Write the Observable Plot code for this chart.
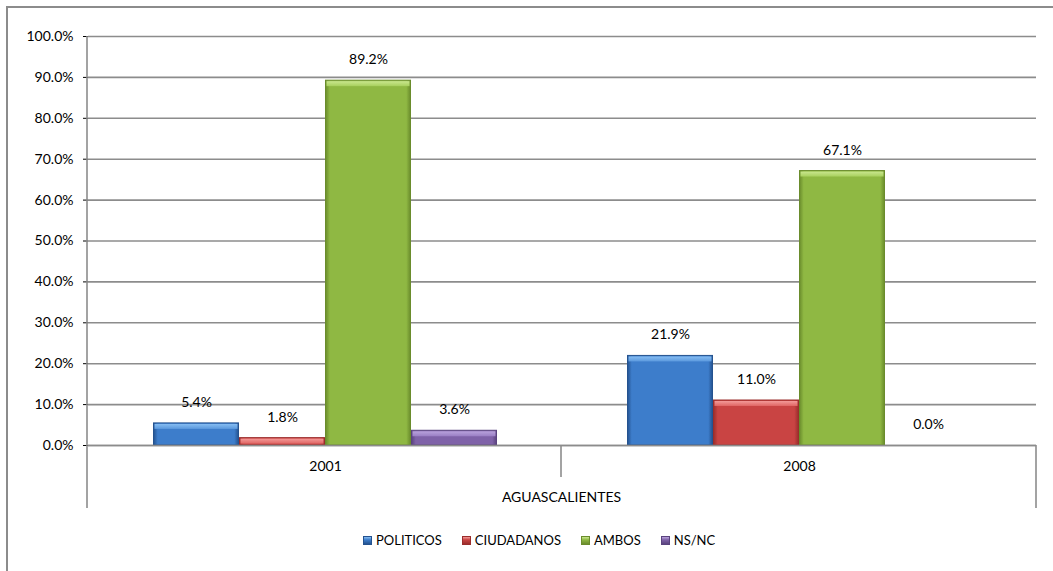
<!DOCTYPE html>
<html>
<head>
<meta charset="utf-8">
<script src="https://cdn.jsdelivr.net/npm/d3@7"></script>
<script src="https://cdn.jsdelivr.net/npm/@observablehq/plot@0.6"></script>
<style>
  html, body { margin: 0; padding: 0; background: #fff; }
  body { width: 1053px; height: 571px; position: relative; overflow: hidden; font-family: Lato, "Noto Sans", sans-serif; }
  #frame { position: absolute; left: 6px; top: 6px; width: 1100px; height: 620px; border-left: 2px solid #8c8c8c; border-top: 2px solid #8c8c8c; box-sizing: border-box; }
  #chart { position: absolute; left: 0; top: 0; }
  #legend { position: absolute; left: 363px; top: 532px; display: flex; align-items: center; font-size: 13px; color: #000; }
  .item { display: flex; align-items: center; margin-right: 20px; }
  .sw { width: 9px; height: 9px; margin-right: 4px; box-sizing: border-box; }
</style>
</head>
<body>
<div id="frame"></div>
<div id="chart"></div>
<div id="legend"></div>
<script>
const years = ["2001", "2008"];
const series = ["POLITICOS", "CIUDADANOS", "AMBOS", "NS/NC"];
const politicos = [0.054, 0.219];
const ciudadanos = [0.018, 0.110];
const ambos = [0.892, 0.671];
const nsnc = [0.036, 0.000];
const groupLabel = "AGUASCALIENTES";
const yTicks = [0, 0.1, 0.2, 0.3, 0.4, 0.5, 0.6, 0.7, 0.8, 0.9, 1.0];

// bar colours: [edge, body, highlight, highlight-low]
const palette = [
  ["#24528f", "#3d7dcb", "#86bdf2", "#5b99de"],
  ["#9a2d2c", "#c94443", "#f39a98", "#e06664"],
  ["#6a8c2c", "#8fb843", "#c9e68e", "#a8d05e"],
  ["#5a437e", "#7f62a8", "#b9a2dc", "#9a7fc4"]
];

const valuesBySeries = [politicos, ciudadanos, ambos, nsnc];
const data = years.flatMap((yr, i) => series.map((s, j) => ({year: yr, series: s, value: valuesBySeries[j][i], k: j})));
const fmt = d3.format(".1%");

const marks = [
  Plot.ruleY(yTicks, {stroke: "#8c8c8c", strokeWidth: 1.6})
];
series.forEach((s, j) => {
  const d = data.filter(r => r.k === j);
  const pos = d.filter(r => r.value > 0);
  marks.push(Plot.barY(pos, {fx: "year", x: "series", y: "value", fill: `url(#body${j})`, stroke: palette[j][0], strokeWidth: 1, insetLeft: 0.5, insetRight: 0.5}));
  marks.push(Plot.barY(pos, {fx: "year", x: "series", y1: "value", y2: "value", insetBottom: -6, insetLeft: 1.5, insetRight: 1.5, insetTop: 1, fill: `url(#top${j})`}));
});
marks.push(Plot.ruleY([0], {stroke: "#8c8c8c", strokeWidth: 1.6}));
marks.push(Plot.text(data, {fx: "year", x: "series", y: "value", text: d => fmt(d.value), dy: -21, fontSize: 14, fill: "#000"}));

const plot = Plot.plot({
  width: 1053,
  height: 520,
  marginTop: 36,
  marginBottom: 75,
  marginLeft: 87,
  marginRight: 17,
  style: {fontFamily: "Lato, 'Noto Sans', sans-serif", fontSize: "14px", color: "#000", background: "transparent"},
  fx: {domain: years, padding: 0, axis: "bottom", tickSize: 0, tickPadding: 16, label: null},
  x: {domain: series, paddingInner: 0, paddingOuter: 0.73, axis: null},
  y: {domain: [0, 1], ticks: yTicks, tickFormat: fmt, tickSize: 5, tickPadding: 10, label: null},
  marks
});
document.getElementById("chart").appendChild(plot);

const svg = d3.select(plot);
const defs = svg.insert("defs", ":first-child");
palette.forEach((c, j) => {
  const gb = defs.append("linearGradient").attr("id", `body${j}`).attr("x1", 0).attr("x2", 1).attr("y1", 0).attr("y2", 0);
  [[0, c[0]], [0.05, c[1]], [0.95, c[1]], [1, c[0]]].forEach(([o, col]) => gb.append("stop").attr("offset", o).attr("stop-color", col));
  const gt = defs.append("linearGradient").attr("id", `top${j}`).attr("x1", 0).attr("x2", 0).attr("y1", 0).attr("y2", 1);
  [[0, c[2]], [1, c[3]]].forEach(([o, col]) => gt.append("stop").attr("offset", o).attr("stop-color", col));
});

// axis frame lines and category separators, from the plot's own scales
const fxs = plot.scale("fx");
const ys = plot.scale("y");
const left = fxs.range[0], right = fxs.range[1], step = fxs.step;
const yBase = Math.max(...ys.range), yTop = Math.min(...ys.range);
const g = svg.append("g").attr("stroke", "#8c8c8c").attr("stroke-width", 1.6);
g.append("line").attr("x1", left).attr("x2", left).attr("y1", yTop).attr("y2", yBase + 63);
g.append("line").attr("x1", right).attr("x2", right).attr("y1", yBase).attr("y2", yBase + 63);
for (let i = 1; i < years.length; i++) {
  g.append("line").attr("x1", left + i * step).attr("x2", left + i * step).attr("y1", yBase).attr("y2", yBase + 32);
}
svg.append("text").attr("x", (left + right) / 2).attr("y", yBase + 57).attr("text-anchor", "middle")
  .attr("fill", "#000").style("font-size", "14px").text(groupLabel);

// legend
const legend = d3.select("#legend");
series.forEach((s, j) => {
  const it = legend.append("div").attr("class", "item");
  it.append("div").attr("class", "sw")
    .style("background", `linear-gradient(to bottom, ${palette[j][2]}, ${palette[j][1]} 40%, ${palette[j][0]})`)
    .style("border", `1px solid ${palette[j][0]}`);
  it.append("span").text(s);
});
</script>
</body>
</html>
